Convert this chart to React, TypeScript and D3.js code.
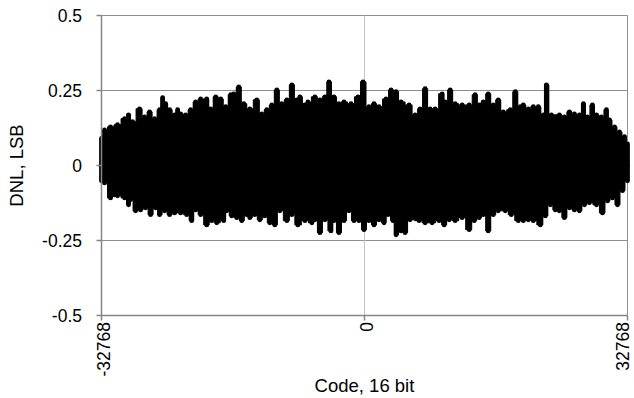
import React from "react";
import * as d3 from "d3";

const W = 634;
const H = 398;

// Y ticks (DNL, LSB) and X ticks (code)
const yTicks = [0.5, 0.25, 0, -0.25, -0.5];
const yTickLabels = ["0.5", "0.25", "0", "-0.25", "-0.5"];
const xTicks = [-32768, 0, 32768];
const xTickLabels = ["-32768", "0", "32768"];

// Upper envelope of the DNL trace (code, LSB)
const upperCodes = [
  -32768, -32394, -31645, -30771, -29897, -29397, -28898, -28024, -27400, -26776,
  -26152, -25528, -25153, -24779, -24280, -23655, -23281, -22906, -22282, -21658,
  -21034, -20410, -19661, -19161, -18537, -17913, -17289, -16665, -16290, -15666,
  -15042, -14293, -13419, -12795, -12171, -11547, -10923, -10298, -9674, -9050,
  -8426, -8052, -7427, -7053, -6179, -5555, -4931, -4431, -3807, -3183,
  -2559, -1685, -811, -187, 562, 1186, 1810, 2684, 3308, 3932,
  4556, 5555, 6304, 6928, 7552, 8176, 8801, 9674, 10049, 10673,
  11297, 12171, 13045, 13794, 14293, 14792, 15416, 16040, 16665, 17289,
  18163, 18787, 19411, 19786, 20410, 21034, 21658, 22282, 22657, 23281,
  24280, 24904, 25528, 26152, 26776, 27275, 27775, 28399, 28898, 29522,
  30146, 30521, 31145, 31769, 32394, 32767,
];
const upperDnl = [
  0.09, 0.119, 0.129, 0.136, 0.156, 0.169, 0.146, 0.189, 0.162, 0.179,
  0.156, 0.186, 0.226, 0.206, 0.186, 0.169, 0.186, 0.172, 0.169, 0.186,
  0.212, 0.222, 0.222, 0.189, 0.229, 0.222, 0.196, 0.236, 0.239, 0.262,
  0.206, 0.189, 0.219, 0.172, 0.186, 0.202, 0.252, 0.206, 0.219, 0.269,
  0.219, 0.229, 0.202, 0.212, 0.229, 0.219, 0.229, 0.279, 0.229, 0.206,
  0.212, 0.206, 0.229, 0.279, 0.196, 0.206, 0.196, 0.222, 0.252, 0.246,
  0.212, 0.202, 0.169, 0.189, 0.256, 0.189, 0.189, 0.239, 0.212, 0.252,
  0.206, 0.202, 0.202, 0.236, 0.202, 0.212, 0.239, 0.202, 0.219, 0.179,
  0.186, 0.246, 0.196, 0.202, 0.189, 0.196, 0.196, 0.169, 0.269, 0.169,
  0.169, 0.162, 0.179, 0.172, 0.169, 0.206, 0.162, 0.202, 0.169, 0.162,
  0.186, 0.152, 0.129, 0.112, 0.096, 0.072,
];

// Lower envelope of the DNL trace (code, LSB)
const lowerCodes = [
  -32768, -32394, -31645, -31145, -30771, -29897, -29397, -29148, -28524, -27900,
  -27275, -26651, -26027, -25528, -24904, -24280, -23655, -22906, -22157, -21533,
  -21034, -20410, -19661, -19037, -18412, -17538, -17164, -16540, -15916, -15292,
  -14668, -14293, -13669, -13045, -12421, -11796, -11172, -10548, -9674, -9050,
  -8301, -7427, -6554, -6179, -5555, -4931, -4182, -3807, -3183, -2559,
  -1935, -1311, -687, -62, 562, 1186, 1810, 2434, 2934, 3558,
  3932, 4556, 5056, 5680, 6803, 7552, 8426, 9300, 9924, 10548,
  11297, 12171, 13045, 13669, 14293, 14792, 15416, 16040, 16665, 17538,
  18288, 19161, 19786, 20410, 21034, 21908, 22532, 23156, 23780, 24280,
  24904, 25528, 26152, 26776, 27400, 28024, 28898, 29647, 30271, 30896,
  31520, 32144, 32767,
];
const lowerDnl = [
  -0.051, -0.058, -0.108, -0.098, -0.101, -0.108, -0.131, -0.114, -0.151, -0.148,
  -0.141, -0.164, -0.141, -0.164, -0.151, -0.164, -0.158, -0.158, -0.164, -0.184,
  -0.148, -0.164, -0.198, -0.184, -0.191, -0.184, -0.151, -0.168, -0.174, -0.184,
  -0.164, -0.174, -0.164, -0.181, -0.168, -0.191, -0.198, -0.151, -0.184, -0.164,
  -0.198, -0.184, -0.191, -0.181, -0.224, -0.181, -0.218, -0.184, -0.224, -0.184,
  -0.151, -0.184, -0.184, -0.214, -0.184, -0.198, -0.181, -0.191, -0.164, -0.184,
  -0.231, -0.218, -0.224, -0.181, -0.184, -0.191, -0.191, -0.184, -0.198, -0.181,
  -0.184, -0.174, -0.214, -0.184, -0.174, -0.164, -0.218, -0.164, -0.151, -0.151,
  -0.164, -0.184, -0.184, -0.181, -0.184, -0.198, -0.168, -0.131, -0.148, -0.151,
  -0.174, -0.141, -0.148, -0.151, -0.131, -0.124, -0.131, -0.158, -0.118, -0.108,
  -0.131, -0.084, -0.051,
];

const FONT = "'Liberation Sans', Arial, Helvetica, sans-serif";

export default function App() {
  const x = d3.scaleLinear().domain([-32768, 32768]).range([101.5, 627.5]);
  const y = d3.scaleLinear().domain([-0.5, 0.5]).range([315.5, 15.5]);

  const upper: [number, number][] = upperCodes.map((c, i) => [c, upperDnl[i]]);
  const lower: [number, number][] = lowerCodes.map((c, i) => [c, lowerDnl[i]]);
  const poly = upper.concat(lower.slice().reverse());
  const line = d3
    .line<[number, number]>()
    .x((d) => x(d[0]))
    .y((d) => y(d[1]))
    .curve(d3.curveStep);
  const bandPath = (line(poly) || "") + "Z";

  const gridColor = "#8e8e8e";
  const axisColor = "#868686";
  const [x0, x1] = x.range();

  return (
    <svg
      width={W}
      height={H}
      style={{ position: "absolute", left: 0, top: 0, background: "#fff" }}
      fontFamily={FONT}
    >
      {/* horizontal gridlines */}
      {yTicks
        .filter((t) => t !== -0.5)
        .map((t) => (
          <line key={"g" + t} x1={x0} x2={x1} y1={y(t)} y2={y(t)} stroke={gridColor} strokeWidth={1} />
        ))}
      {/* vertical gridlines */}
      <line x1={x(0)} x2={x(0)} y1={y(0.5)} y2={y(-0.5)} stroke="#c4c4c4" strokeWidth={1} />
      <line x1={x(32768)} x2={x(32768)} y1={y(0.5)} y2={y(-0.5)} stroke={gridColor} strokeWidth={1} />

      {/* data band */}
      <path d={bandPath} fill="#000" stroke="#000" strokeWidth={1} strokeLinejoin="round" />
      {upper.map((d, i) => (
        <line
          key={"u" + i}
          x1={x(d[0])}
          x2={x(d[0])}
          y1={y(0)}
          y2={y(d[1])}
          stroke="#000"
          strokeWidth={4.8}
          strokeLinecap="round"
        />
      ))}
      {lower.map((d, i) => (
        <line
          key={"l" + i}
          x1={x(d[0])}
          x2={x(d[0])}
          y1={y(0)}
          y2={y(d[1])}
          stroke="#000"
          strokeWidth={4.8}
          strokeLinecap="round"
        />
      ))}

      {/* axes */}
      <line x1={x0} x2={x0} y1={y(0.5)} y2={y(-0.5)} stroke={axisColor} strokeWidth={1.5} />
      <line x1={x0} x2={x1} y1={y(-0.5)} y2={y(-0.5)} stroke={axisColor} strokeWidth={1.5} />
      {yTicks.map((t) => (
        <line key={"yt" + t} x1={x0 - 5} x2={x0} y1={y(t)} y2={y(t)} stroke={axisColor} strokeWidth={1.5} />
      ))}
      {xTicks.map((t) => (
        <line key={"xt" + t} x1={x(t)} x2={x(t)} y1={y(-0.5)} y2={y(-0.5) + 5} stroke={axisColor} strokeWidth={1.5} />
      ))}

      {/* y tick labels */}
      {yTicks.map((t, i) => (
        <text key={"yl" + t} x={82} y={y(t)} dy="0.35em" textAnchor="end" fontSize={17.5} fill="#000">
          {yTickLabels[i]}
        </text>
      ))}
      {/* x tick labels */}
      {xTicks.map((t, i) => (
        <text
          key={"xl" + t}
          transform={`translate(${Math.min(x(t) + 2, W - 11)},322) rotate(-90)`}
          dy="0.35em"
          textAnchor="end"
          fontSize={17.5}
          fill="#000"
        >
          {xTickLabels[i]}
        </text>
      ))}

      {/* axis titles */}
      <text
        transform={`translate(17,${y(0)}) rotate(-90)`}
        dy="0.35em"
        textAnchor="middle"
        fontSize={18.5}
        fill="#000"
      >
        DNL, LSB
      </text>
      <text x={x(0)} y={392} textAnchor="middle" fontSize={18.5} fill="#000">
        Code, 16 bit
      </text>
    </svg>
  );
}
